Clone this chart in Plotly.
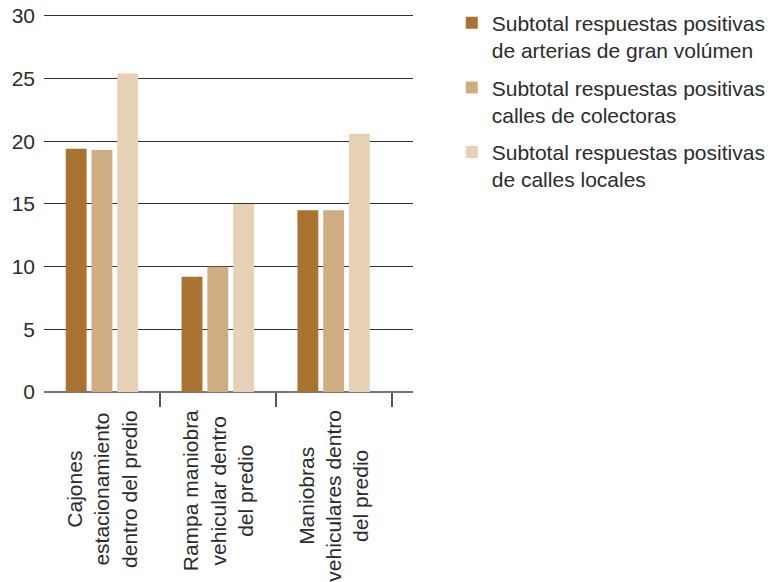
import plotly.graph_objects as go

# Categories (each label broken over lines) and the three series
categories = [
    "Cajones<br>estacionamiento<br>dentro del predio",
    "Rampa maniobra<br>vehicular dentro<br>del predio",
    "Maniobras<br>vehiculares dentro<br>del predio",
]
series_names = [
    "Subtotal respuestas positivas<br>de arterias de gran volúmen",
    "Subtotal respuestas positivas<br>calles de colectoras",
    "Subtotal respuestas positivas<br>de calles locales",
]
arterias = [19.4, 9.2, 14.5]
colectoras = [19.3, 10.0, 14.5]
locales = [25.4, 15.0, 20.6]
y_ticks = [0, 5, 10, 15, 20, 25, 30]

colors = ["#A87230", "#CFAD83", "#E6D1B7"]
FONT = "Liberation Sans, Arial, Helvetica, sans-serif"
TEXT = "#2b2b2b"
FS = 21

x_pos = list(range(len(categories)))

fig = go.Figure()
for name, vals, col in zip(series_names, [arterias, colectoras, locales], colors):
    fig.add_trace(go.Bar(
        x=x_pos, y=vals, name=name, legendgroup=name,
        marker=dict(color=col, line=dict(width=0)),
    ))

# Rotated category labels under each group
for xi, lab in zip(x_pos, categories):
    fig.add_annotation(
        x=xi, y=0, xref="x", yref="paper", yanchor="top", xanchor="center",
        yshift=-16, text=lab, textangle=-90, align="center", showarrow=False,
        font=dict(family=FONT, size=FS, color=TEXT),
    )

fig.update_layout(
    width=778, height=582,
    margin=dict(l=44, r=365, t=14, b=190, autoexpand=False),
    paper_bgcolor="white", plot_bgcolor="white",
    barmode="group", bargap=0.333, bargroupgap=0.19,
    font=dict(family=FONT, size=FS, color=TEXT),
    showlegend=True,
    legend=dict(
        x=1.105, y=1.03, xanchor="left", yanchor="top",
        valign="top", tracegroupgap=7, traceorder="grouped",
        font=dict(family=FONT, size=FS, color=TEXT),
        bgcolor="rgba(0,0,0,0)",
    ),
)
fig.update_xaxes(
    range=[-0.5, 2.685], showgrid=False, zeroline=False,
    tickvals=[0.5, 1.5, 2.5], ticktext=["", "", ""],
    ticks="outside", ticklen=14, tickwidth=1.5, tickcolor="#555555",
    showline=False, fixedrange=True,
)
fig.update_yaxes(
    range=[0, 30.15], tickvals=y_ticks, showgrid=True, gridcolor="#333333",
    gridwidth=1, zeroline=True, zerolinecolor="#777777", zerolinewidth=1.5,
    ticks="", ticklabelstandoff=8, showline=False,
    tickfont=dict(family=FONT, size=FS, color=TEXT),
)

fig.write_html("out.html")
